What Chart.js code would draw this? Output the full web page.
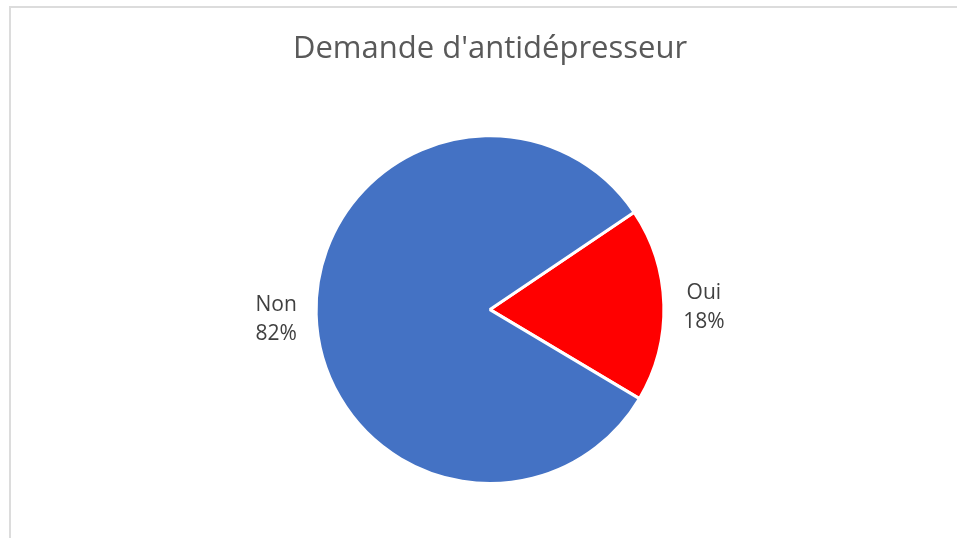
<!DOCTYPE html>
<html lang="fr">
<head>
    <meta charset="UTF-8">
    <title>Demande d'antidépresseur</title>
    <script src="https://cdn.jsdelivr.net/npm/chart.js"></script>
    <style>
        html, body {
            margin: 0;
            padding: 0;
            background: #ffffff;
        }
        .page {
            position: relative;
            width: 957px;
            height: 538px;
            overflow: hidden;
        }
        .frame {
            position: absolute;
            left: 9px;
            top: 6px;
            width: 1000px;
            height: 600px;
            border: 2px solid #dcdcdc;
        }
        canvas {
            position: absolute;
            left: 0;
            top: 0;
        }
    </style>
</head>
<body>
    <div class="page">
        <div class="frame"></div>
        <canvas id="pieChart" width="957" height="538"></canvas>
    </div>

    <script>
        // Réponses à la question
        const categories = ['Oui', 'Non'];
        const percents = [18, 82];
        const sliceColors = ['#ff0000', '#4472c4'];

        const labelFont = '21px "Open Sans", sans-serif';
        const labelColor = '#404040';

        // Étiquettes "catégorie / pourcentage" placées hors du disque
        const outsideLabels = {
            id: 'outsideLabels',
            afterDatasetsDraw(chart) {
                const ctx = chart.ctx;
                const meta = chart.getDatasetMeta(0);
                ctx.save();
                ctx.font = labelFont;
                ctx.fillStyle = labelColor;
                ctx.textAlign = 'center';
                ctx.textBaseline = 'middle';
                meta.data.forEach((arc, i) => {
                    const p = arc.getProps(['x', 'y', 'startAngle', 'endAngle', 'outerRadius'], true);
                    const mid = (p.startAngle + p.endAngle) / 2;
                    const r = p.outerRadius + 40;
                    const x = p.x + Math.cos(mid) * r;
                    const y = p.y + Math.sin(mid) * r + 3.5;
                    ctx.fillText(categories[i], x, y - 14.5);
                    ctx.fillText(percents[i] + '%', x, y + 14.5);
                });
                ctx.restore();
            }
        };

        const ctx = document.getElementById('pieChart').getContext('2d');
        new Chart(ctx, {
            type: 'pie',
            data: {
                labels: categories,
                datasets: [{
                    data: percents,
                    backgroundColor: sliceColors,
                    borderColor: '#ffffff',
                    borderWidth: 3
                }]
            },
            options: {
                responsive: false,
                animation: false,
                rotation: 56,
                layout: {
                    padding: { top: 0, bottom: 53, left: 23, right: 0 }
                },
                plugins: {
                    legend: { display: false },
                    tooltip: { enabled: false },
                    title: {
                        display: true,
                        text: "Demande d'antidépresseur",
                        color: '#595959',
                        font: { family: '"Open Sans", sans-serif', size: 31, weight: 'normal', lineHeight: 1.2 },
                        padding: { top: 31, bottom: 66 }
                    }
                }
            },
            plugins: [outsideLabels]
        });
    </script>
</body>
</html>
